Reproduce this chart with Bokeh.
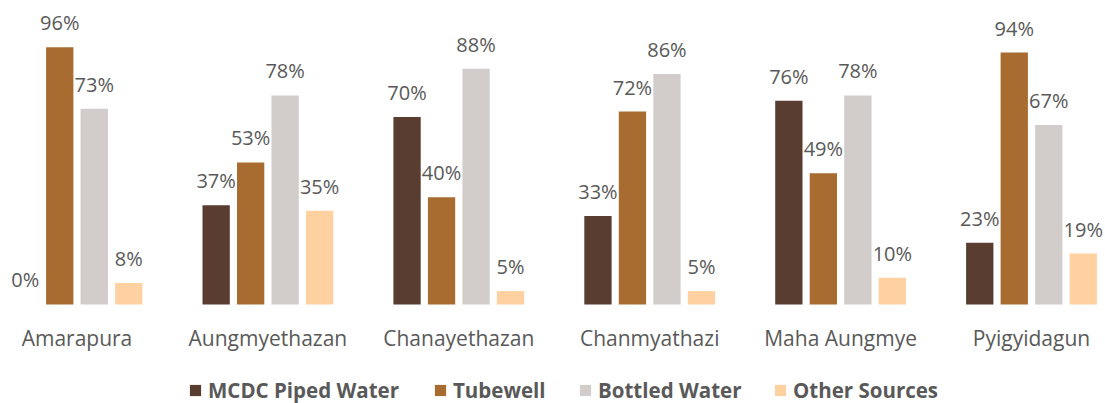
from bokeh.plotting import figure
from bokeh.models import (ColumnDataSource, Range1d, FixedTicker, LabelSet,
                          Legend, LegendItem, LinearAxis)
from bokeh.core.properties import value
from bokeh.embed import file_html
from bokeh.resources import INLINE

categories = ["Amarapura", "Aungmyethazan", "Chanayethazan", "Chanmyathazi",
              "Maha Aungmye", "Pyigyidagun"]
series_names = ["MCDC Piped Water", "Tubewell", "Bottled Water", "Other Sources"]
mcdc = [0, 37, 70, 33, 76, 23]
tubewell = [96, 53, 40, 72, 49, 94]
bottled = [73, 78, 88, 86, 78, 67]
other = [8, 35, 5, 5, 10, 19]
colors = ["#593D31", "#A86C30", "#D2CDCA", "#FFD1A0"]

FONT = "Open Sans"
TXT = "#595959"

p = figure(width=1105, height=403, output_backend="svg", toolbar_location=None,
           x_range=Range1d(-0.4007, 5.3876), y_range=Range1d(-36.94, 113.43),
           min_border_left=0, min_border_right=0, min_border_top=0,
           min_border_bottom=0, x_axis_location=None, y_axis_location=None)
p.outline_line_color = None
p.xgrid.visible = False
p.ygrid.visible = False
p.background_fill_color = "white"

step = 0.1807
bw = 0.143
renderers = []
for k, (vals, col) in enumerate(zip([mcdc, tubewell, bottled, other], colors)):
    xs = [i + (k - 1.5) * step for i in range(len(categories))]
    src = ColumnDataSource(dict(x=xs, top=vals, lab=[f"{v}%" for v in vals]))
    r = p.vbar(x="x", top="top", width=bw, bottom=0, source=src,
               fill_color=col, line_color=None)
    renderers.append(r)
    p.add_layout(LabelSet(x="x", y="top", text="lab", source=src,
                          text_align="center", text_baseline="alphabetic",
                          y_offset=17, text_font=value(FONT),
                          text_font_size="20px", text_color=TXT))

ax = LinearAxis(ticker=FixedTicker(ticks=list(range(len(categories)))),
                major_label_overrides={i: c for i, c in enumerate(categories)},
                fixed_location=0)
ax.axis_line_color = None
ax.major_tick_line_color = None
ax.minor_tick_line_color = None
ax.major_tick_in = 0
ax.major_tick_out = 0
ax.major_label_standoff = 20
ax.major_label_text_font = FONT
ax.major_label_text_font_size = "21px"
ax.major_label_text_color = TXT
p.add_layout(ax, "below")

legend_x = [188, 433, 578, 773]
for name, r, lx in zip(series_names, renderers, legend_x):
    lg = Legend(items=[LegendItem(label=name, renderers=[r])],
                location=(lx, -1), orientation="horizontal",
                glyph_width=14, glyph_height=14, label_standoff=6,
                label_height=14, padding=0, margin=0, border_line_color=None,
                background_fill_alpha=0, label_text_font=FONT,
                label_text_font_size="20.5px", label_text_font_style="bold",
                label_text_color=TXT)
    p.add_layout(lg, "center")

open("out.html", "w").write(file_html(p, INLINE))
